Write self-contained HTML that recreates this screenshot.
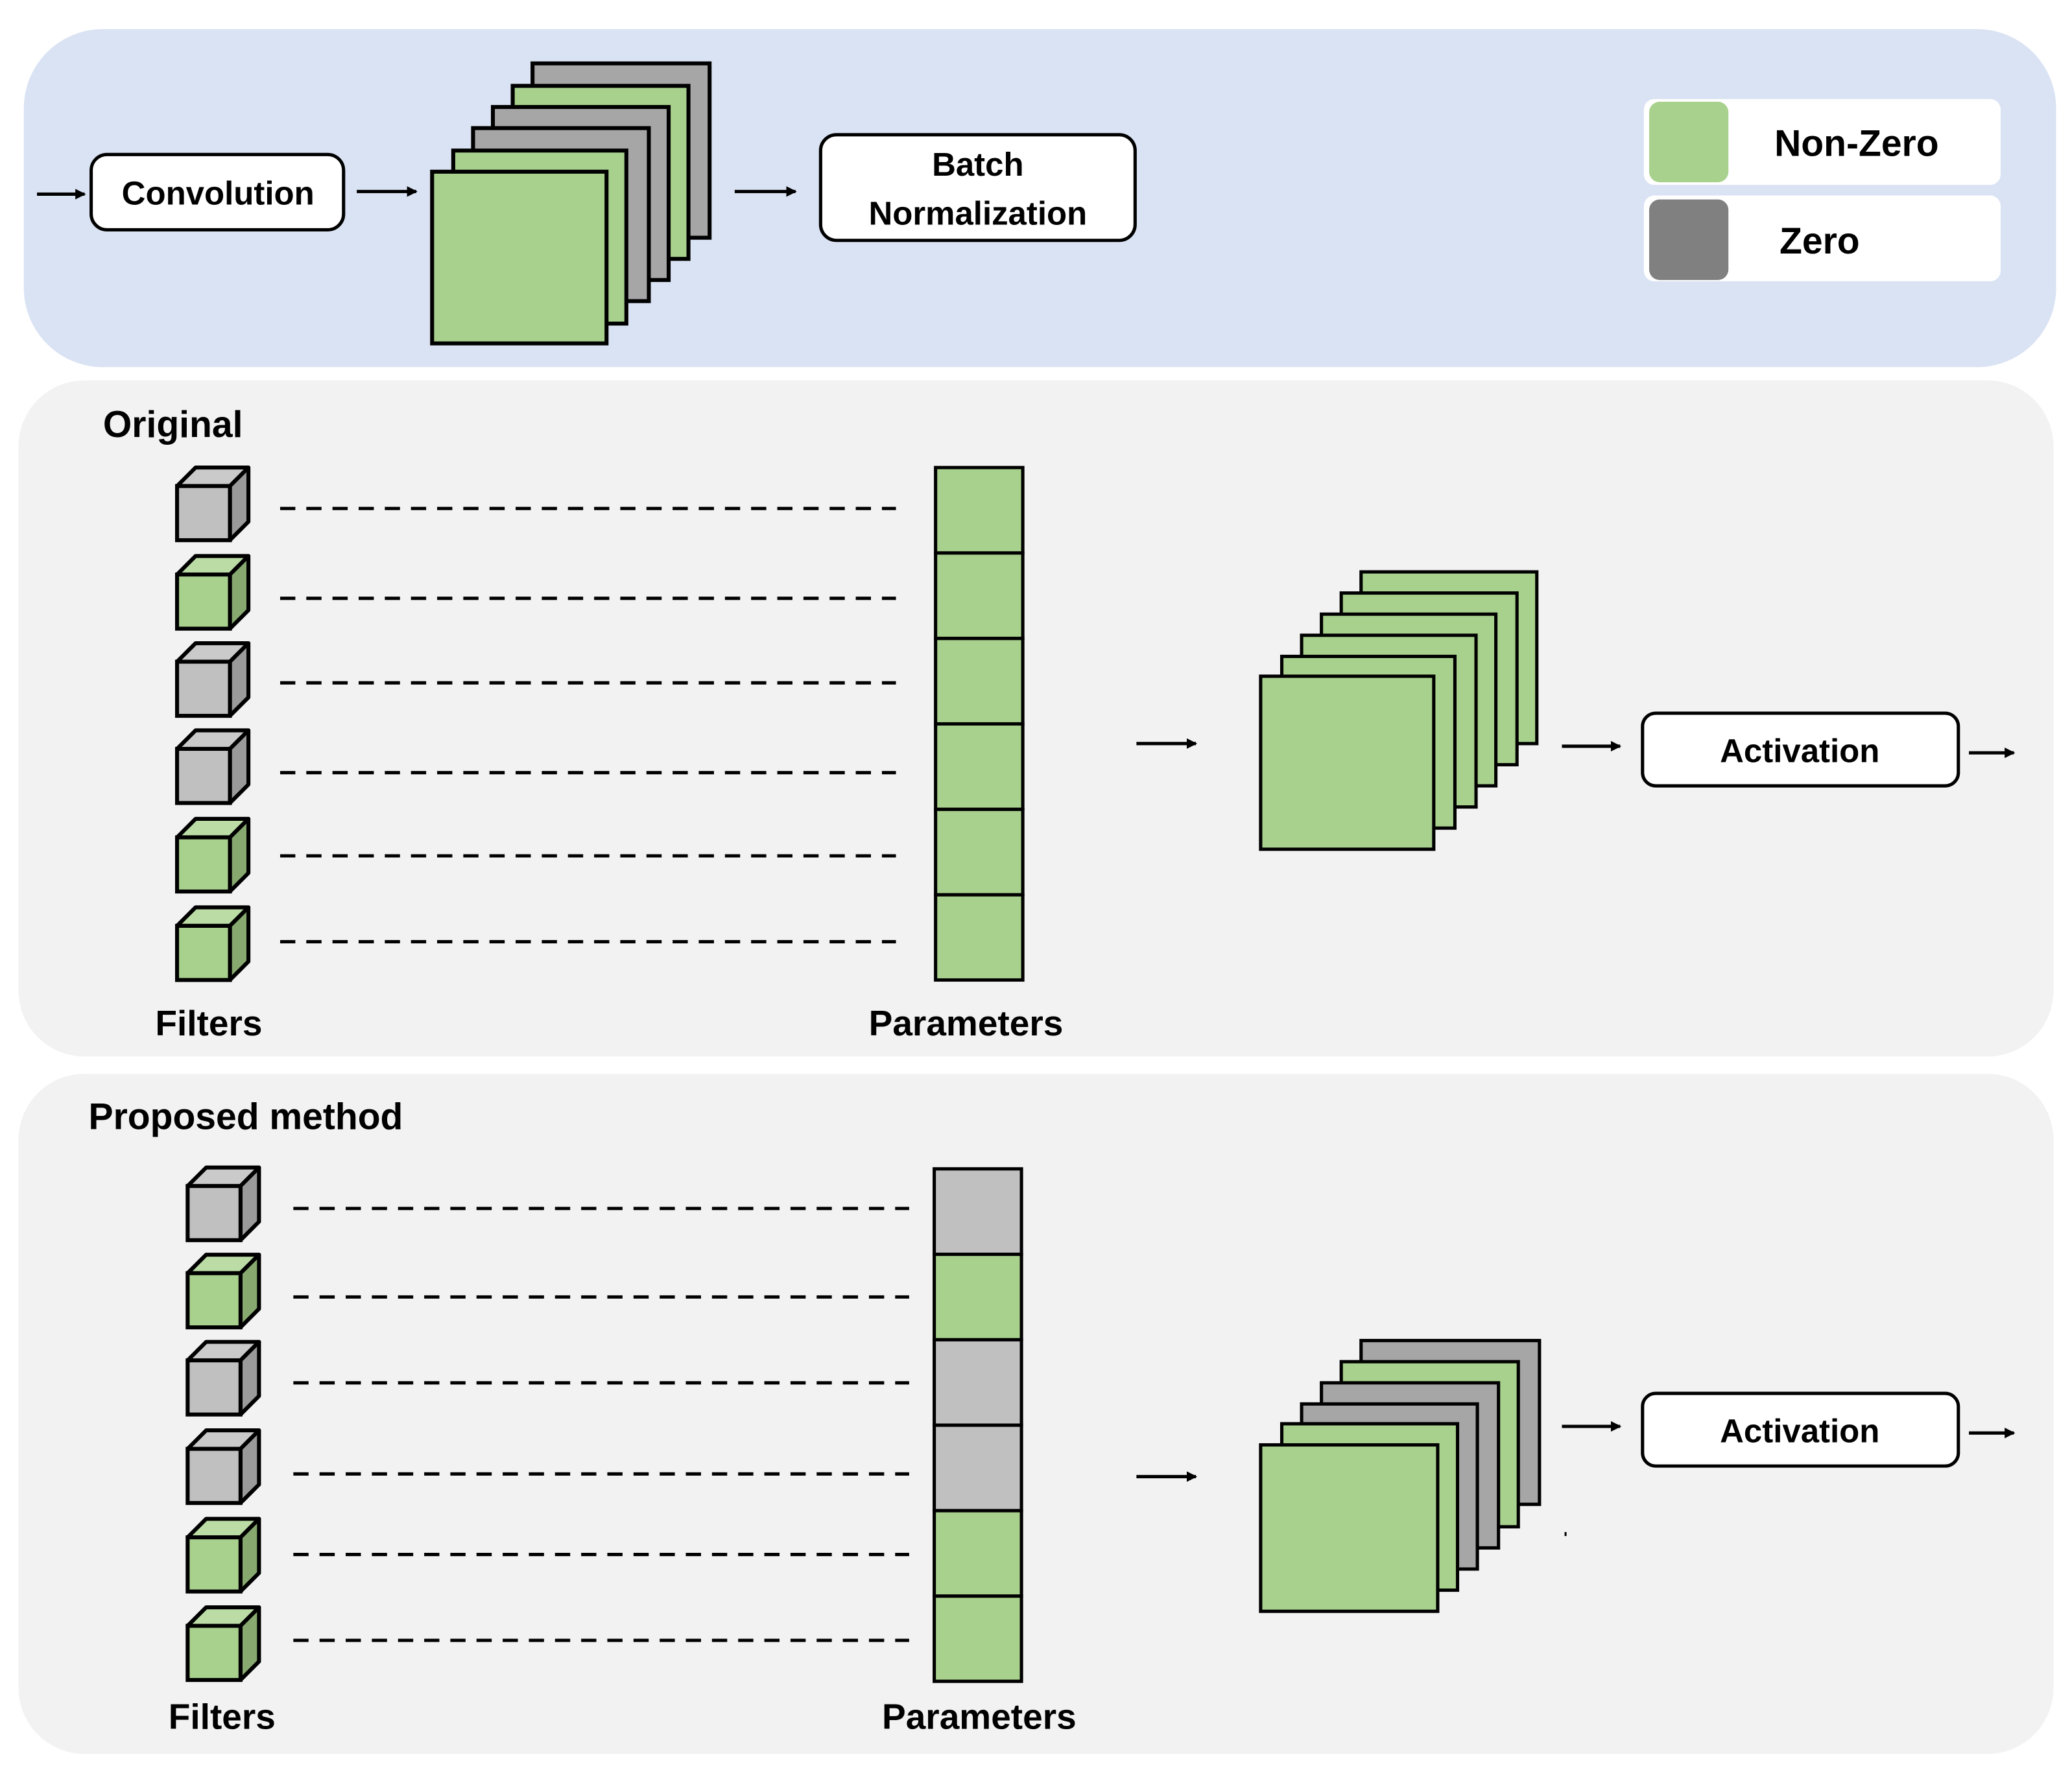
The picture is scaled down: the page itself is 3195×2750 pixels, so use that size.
<!DOCTYPE html>
<html><head><meta charset="utf-8"><style>
html,body{margin:0;padding:0;background:#fff}
svg{display:block}
text{font-family:"Liberation Sans",sans-serif;font-weight:bold;fill:#000}
</style></head><body>
<svg width="3195" height="2750" viewBox="0 0 1568 1350" preserveAspectRatio="none" xmlns="http://www.w3.org/2000/svg">
<defs>
<g id="cg">
<polygon points="0,14 14,0 54,0 40,14" fill="#bcdca6" stroke="#000" stroke-width="3" stroke-linejoin="round"/>
<polygon points="40,14 54,0 54,41 40,55" fill="#87a96f" stroke="#000" stroke-width="3" stroke-linejoin="round"/>
<rect x="0" y="14" width="40" height="41" fill="#a9d18e" stroke="#000" stroke-width="3"/>
</g>
<g id="cy">
<polygon points="0,14 14,0 54,0 40,14" fill="#cacaca" stroke="#000" stroke-width="3" stroke-linejoin="round"/>
<polygon points="40,14 54,0 54,41 40,55" fill="#9a9a9a" stroke="#000" stroke-width="3" stroke-linejoin="round"/>
<rect x="0" y="14" width="40" height="41" fill="#c0c0c0" stroke="#000" stroke-width="3"/>
</g>
<marker id="ah" markerWidth="8" markerHeight="8" refX="7" refY="4" orient="auto" markerUnits="userSpaceOnUse"><path d="M0,0 L8,4 L0,8 z" fill="#000"/></marker>
</defs>
<!-- panels -->
<rect x="18" y="22" width="1538" height="256" rx="60" fill="#dae3f3"/>
<rect x="14" y="288" width="1540" height="512" rx="50" fill="#f2f2f2"/>
<rect x="14" y="813" width="1540" height="515" rx="50" fill="#f2f2f2"/>

<g stroke="#000" stroke-width="2.5" fill="none" marker-end="url(#ah)">
<line x1="28" y1="147" x2="64" y2="147"/>
<line x1="270" y1="145" x2="315" y2="145"/>
<line x1="556" y1="145" x2="602" y2="145"/>
<line x1="860" y1="563" x2="905" y2="563"/>
<line x1="1182" y1="565" x2="1226" y2="565"/>
<line x1="1490" y1="570" x2="1524" y2="570"/>
<line x1="860" y1="1118" x2="905" y2="1118"/>
<line x1="1182" y1="1080" x2="1226" y2="1080"/>
<line x1="1490" y1="1085" x2="1524" y2="1085"/>
</g>

<!-- top -->
<rect x="69" y="117" width="191" height="57" rx="12" fill="#fff" stroke="#000" stroke-width="2.5"/>
<text x="165" y="155" font-size="25" text-anchor="middle">Convolution</text>
<g stroke="#000" stroke-width="3">
<rect x="403" y="48" width="134" height="132" fill="#a6a6a6"/>
<rect x="388" y="65" width="133" height="131" fill="#a9d18e"/>
<rect x="373" y="81" width="133" height="131" fill="#a6a6a6"/>
<rect x="358" y="97" width="133" height="131" fill="#a6a6a6"/>
<rect x="343" y="114" width="131" height="131" fill="#a9d18e"/>
<rect x="327" y="130" width="132" height="130" fill="#a9d18e"/>
</g>
<rect x="621" y="102" width="238" height="80" rx="12" fill="#fff" stroke="#000" stroke-width="2.5"/>
<text x="740" y="133" font-size="25" text-anchor="middle">Batch</text>
<text x="740" y="170" font-size="25" text-anchor="middle">Normalization</text>
<rect x="1244" y="75" width="270" height="65" rx="8" fill="#fff"/>
<rect x="1244" y="148" width="270" height="65" rx="8" fill="#fff"/>
<rect x="1248" y="77" width="60" height="61" rx="8" fill="#a9d18e"/>
<rect x="1248" y="151" width="60" height="61" rx="8" fill="#808080"/>
<text x="1405" y="118" font-size="28" text-anchor="middle">Non-Zero</text>
<text x="1377" y="192" font-size="28" text-anchor="middle">Zero</text>

<!-- original -->
<text x="78" y="331" font-size="28">Original</text>
<use href="#cy" x="134" y="354"/>
<use href="#cg" x="134" y="421"/>
<use href="#cy" x="134" y="487"/>
<use href="#cy" x="134" y="553"/>
<use href="#cg" x="134" y="620"/>
<use href="#cg" x="134" y="687"/>
<g stroke="#000" stroke-width="2.5" stroke-dasharray="11.5 8.3">
<line x1="212" y1="385" x2="678" y2="385"/>
<line x1="212" y1="453" x2="678" y2="453"/>
<line x1="212" y1="517" x2="678" y2="517"/>
<line x1="212" y1="585" x2="678" y2="585"/>
<line x1="212" y1="648" x2="678" y2="648"/>
<line x1="212" y1="713" x2="678" y2="713"/>
</g>
<g stroke="#000" stroke-width="2.5" fill="#a9d18e">
<rect x="708" y="354" width="66" height="64.7"/>
<rect x="708" y="418.7" width="66" height="64.7"/>
<rect x="708" y="483.4" width="66" height="64.7"/>
<rect x="708" y="548.1" width="66" height="64.7"/>
<rect x="708" y="612.8" width="66" height="64.7"/>
<rect x="708" y="677.5" width="66" height="64.5"/>
</g>
<text x="158" y="784" font-size="27" text-anchor="middle">Filters</text>
<text x="731" y="784" font-size="27" text-anchor="middle">Parameters</text>
<g stroke="#000" stroke-width="2.5" fill="#a9d18e">
<rect x="1030" y="433" width="133" height="130"/>
<rect x="1015" y="449" width="133" height="130"/>
<rect x="1000" y="465" width="132" height="130"/>
<rect x="985" y="481" width="132" height="130"/>
<rect x="970" y="497" width="131" height="130"/>
<rect x="954" y="512" width="131" height="131"/>
</g>
<rect x="1243" y="540" width="239" height="55" rx="10" fill="#fff" stroke="#000" stroke-width="2.5"/>
<text x="1362" y="577" font-size="25" text-anchor="middle">Activation</text>

<!-- proposed -->
<text x="67" y="855" font-size="28">Proposed method</text>
<use href="#cy" x="142" y="884"/>
<use href="#cg" x="142" y="950"/>
<use href="#cy" x="142" y="1016"/>
<use href="#cy" x="142" y="1083"/>
<use href="#cg" x="142" y="1150"/>
<use href="#cg" x="142" y="1217"/>
<g stroke="#000" stroke-width="2.5" stroke-dasharray="11.5 8.3">
<line x1="222" y1="915" x2="688" y2="915"/>
<line x1="222" y1="982" x2="688" y2="982"/>
<line x1="222" y1="1047" x2="688" y2="1047"/>
<line x1="222" y1="1116" x2="688" y2="1116"/>
<line x1="222" y1="1177" x2="688" y2="1177"/>
<line x1="222" y1="1242" x2="688" y2="1242"/>
</g>
<g stroke="#000" stroke-width="2.5">
<rect x="707" y="885" width="66" height="64.7" fill="#c0c0c0"/>
<rect x="707" y="949.7" width="66" height="64.7" fill="#a9d18e"/>
<rect x="707" y="1014.4" width="66" height="64.7" fill="#c0c0c0"/>
<rect x="707" y="1079.1" width="66" height="64.7" fill="#c0c0c0"/>
<rect x="707" y="1143.8" width="66" height="64.7" fill="#a9d18e"/>
<rect x="707" y="1208.5" width="66" height="64.5" fill="#a9d18e"/>
</g>
<text x="168" y="1309" font-size="27" text-anchor="middle">Filters</text>
<text x="741" y="1309" font-size="27" text-anchor="middle">Parameters</text>
<g stroke="#000" stroke-width="2.5">
<rect x="1030" y="1015" width="135" height="124" fill="#a6a6a6"/>
<rect x="1015" y="1031" width="134" height="125" fill="#a9d18e"/>
<rect x="1000" y="1047" width="134" height="125" fill="#a6a6a6"/>
<rect x="985" y="1063" width="133" height="125" fill="#a6a6a6"/>
<rect x="970" y="1078" width="133" height="126" fill="#a9d18e"/>
<rect x="954" y="1094" width="134" height="126" fill="#a9d18e"/>
</g>
<rect x="1243" y="1055" width="239" height="55" rx="10" fill="#fff" stroke="#000" stroke-width="2.5"/>
<text x="1362" y="1092" font-size="25" text-anchor="middle">Activation</text>
<rect x="1184" y="1160" width="1.5" height="3" fill="#000"/>
</svg>
</body></html>
